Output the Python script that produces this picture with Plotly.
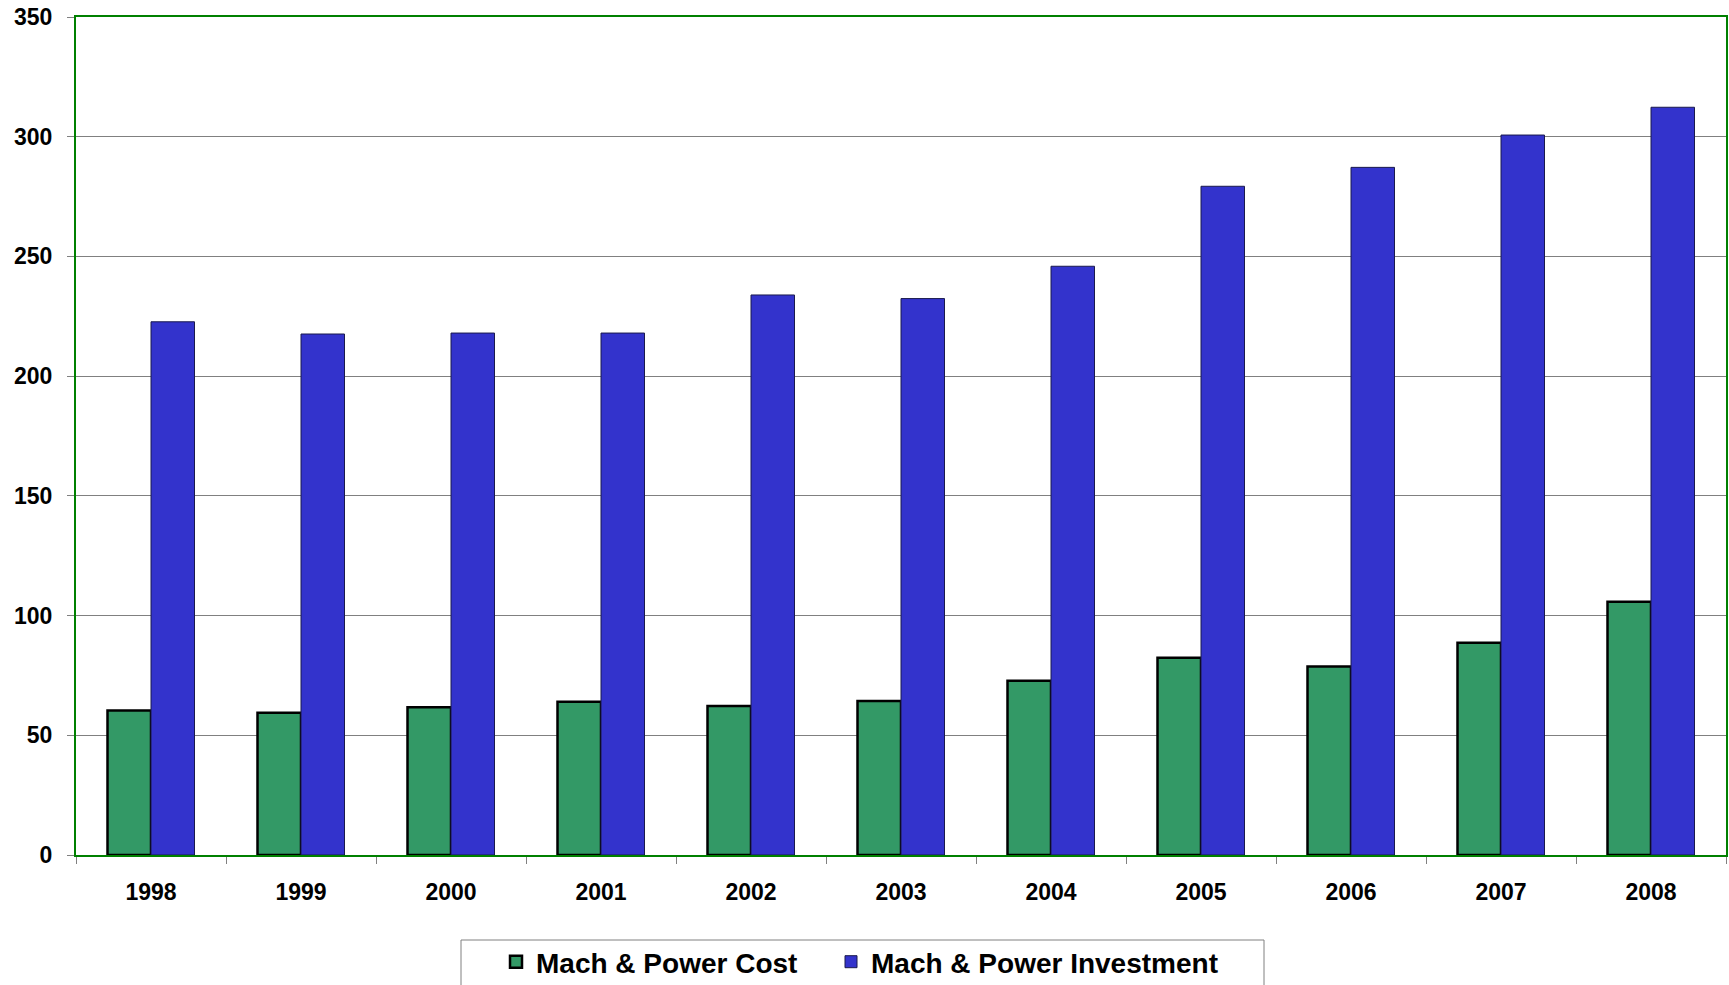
import plotly.graph_objects as go

years = ["1998", "1999", "2000", "2001", "2002", "2003", "2004", "2005", "2006", "2007", "2008"]
cost = [60.3, 59.4, 61.7, 64.0, 62.2, 64.3, 72.8, 82.4, 78.7, 88.7, 105.8]
investment = [222.7, 217.6, 218.0, 218.0, 233.9, 232.4, 245.9, 279.3, 287.2, 300.7, 312.3]
y_ticks = [0, 50, 100, 150, 200, 250, 300, 350]

W, H = 1729, 985
ML, MR, MT, MB = 76, 3, 17, 130
plot_w = W - ML - MR
plot_h = H - MT - MB

def px_(pixel_x):
    return (pixel_x - ML) / plot_w

def py(pixel_y):
    return (H - MB - pixel_y) / plot_h

font_family = "Arial, 'Liberation Sans', sans-serif"
legend_font = dict(family=font_family, size=28, weight="bold", color="black")

fig = go.Figure()
fig.add_trace(go.Bar(
    x=years, y=cost, name="Mach & Power Cost", legend="legend",
    marker=dict(color="#339966", line=dict(color="#000000", width=2.5)),
))
fig.add_trace(go.Bar(
    x=years, y=investment, name="Mach & Power Investment", legend="legend2",
    marker=dict(color="#3333CC", line=dict(color="#1a1a4d", width=1)),
))

fig.update_layout(
    width=W, height=H,
    margin=dict(l=ML, r=MR, t=MT, b=MB, pad=0, autoexpand=False),
    paper_bgcolor="white", plot_bgcolor="white",
    barmode="group", bargap=0.42, bargroupgap=0,
    font=dict(family=font_family, color="black"),
    showlegend=True,
    legend=dict(
        orientation="h", x=px_(496), xanchor="left", y=py(962), yanchor="middle",
        font=legend_font, bgcolor="rgba(0,0,0,0)", borderwidth=0, itemwidth=30,
    ),
    legend2=dict(
        orientation="h", x=px_(831), xanchor="left", y=py(962), yanchor="middle",
        font=legend_font, bgcolor="rgba(0,0,0,0)", borderwidth=0, itemwidth=30,
    ),
    shapes=[dict(
        type="rect", xref="paper", yref="paper",
        x0=px_(461), x1=px_(1264), y0=py(1010), y1=py(940),
        line=dict(color="#808080", width=1), fillcolor="rgba(0,0,0,0)", layer="below",
    )],
)

fig.update_xaxes(
    type="category", showline=True, linecolor="#008000", linewidth=2, mirror=True,
    ticks="outside", tickson="boundaries", ticklen=7, tickcolor="#808080", tickwidth=1,
    showgrid=False,
    tickfont=dict(family=font_family, size=23, weight="bold", color="black"),
    ticklabelstandoff=15,
)
fig.update_yaxes(
    range=[0, 350], tickvals=y_ticks, showline=True, linecolor="#008000", linewidth=2, mirror=True,
    ticks="outside", ticklen=7, tickcolor="#808080", tickwidth=1,
    showgrid=True, gridcolor="#808080", gridwidth=1, zeroline=False,
    tickfont=dict(family=font_family, size=23, weight="bold", color="black"),
    ticklabelstandoff=10,
)

fig.write_html(
    "out.html",
    config={"displayModeBar": False},
    post_script="document.body.style.margin='0';document.body.style.overflow='hidden';",
)
